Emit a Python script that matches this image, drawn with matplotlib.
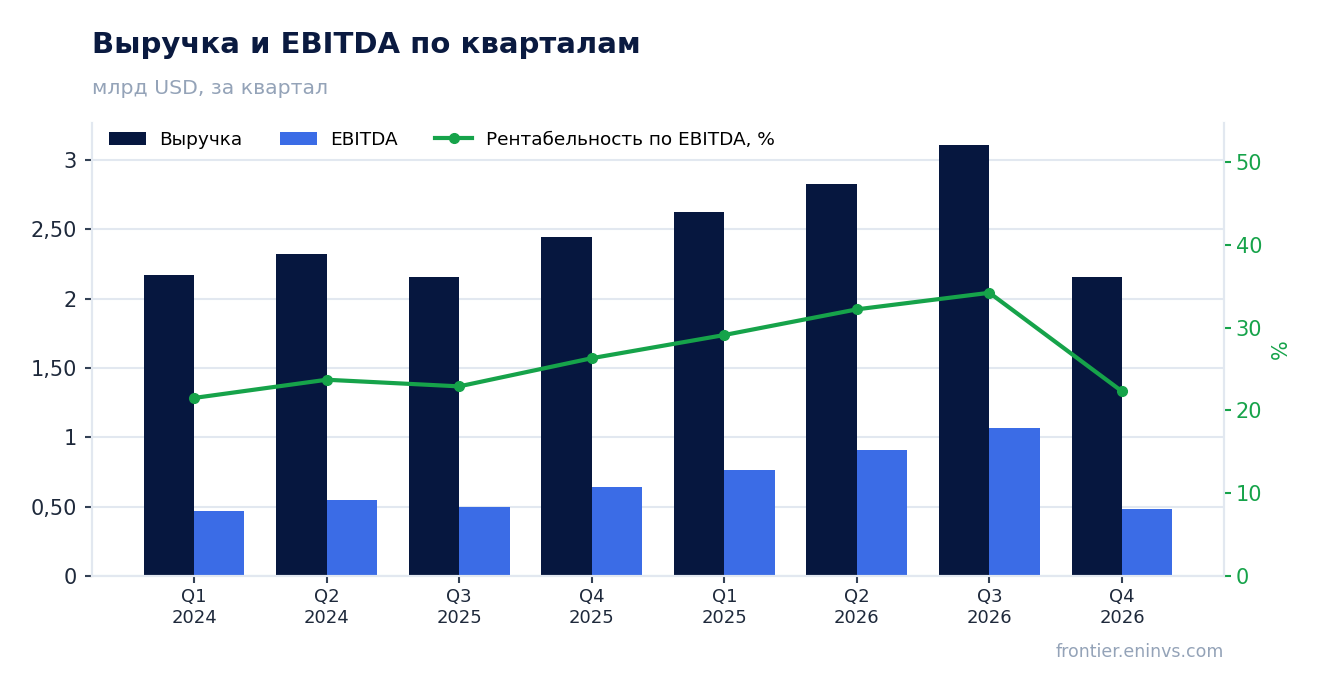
import matplotlib.pyplot as plt
import numpy as np

quarters = ["Q1\n2024", "Q2\n2024", "Q3\n2025", "Q4\n2025", "Q1\n2025", "Q2\n2026", "Q3\n2026", "Q4\n2026"]
revenue = [2.17, 2.32, 2.155, 2.445, 2.625, 2.825, 3.105, 2.155]
ebitda = [0.47, 0.548, 0.498, 0.642, 0.764, 0.909, 1.066, 0.483]
margin = [21.5, 23.7, 22.9, 26.3, 29.1, 32.2, 34.2, 22.3]
left_ticks = [0, 0.5, 1, 1.5, 2, 2.5, 3]
left_labels = ["0", "0,50", "1", "1,50", "2", "2,50", "3"]

navy = "#06173f"
blue = "#3b6ce6"
green = "#16a34a"
grid_c = "#e2e8f0"
grey = "#94a3b8"

fig = plt.figure(figsize=(13.23, 6.93), dpi=100)
ax = fig.add_axes([0.0695, 0.1688, 0.8557, 0.6537])
ax2 = ax.twinx()

x = np.arange(len(quarters))
w = 0.38
ax.bar(x - w / 2, revenue, w, color=navy, label="Выручка", zorder=2)
ax.bar(x + w / 2, ebitda, w, color=blue, label="EBITDA", zorder=2)
ln, = ax2.plot(x, margin, color=green, lw=3, marker="o", ms=7,
               label="Рентабельность по EBITDA, %", zorder=3)

ax.set_xlim(-0.77, len(quarters) - 1 + 0.77)
ax.set_ylim(0, 3.267)
ax2.set_ylim(0, 54.7)

ax.set_yticks(left_ticks)
ax.set_yticklabels(left_labels)
ax.set_xticks(x)
ax.set_xticklabels(quarters, fontsize=13, color="#1e293b")
ax.tick_params(axis="y", labelsize=15, colors="#334155", labelcolor="#1e293b",
               length=5, width=1.5, pad=5.7)
ax.tick_params(axis="x", length=5, width=1.5, colors="#334155", labelcolor="#1e293b")
ax.grid(axis="y", color=grid_c, lw=1.5, zorder=0)
ax.set_axisbelow(True)

ax2.set_yticks([0, 10, 20, 30, 40, 50])
ax2.tick_params(axis="y", labelsize=15, colors=green, length=5, width=1.5)
ax2.set_ylabel("%", color=green, fontsize=15, labelpad=6)

for a in (ax, ax2):
    for s in a.spines.values():
        s.set_color(grid_c)
        s.set_linewidth(1.5)
ax2.spines["top"].set_visible(False)
ax.spines["top"].set_visible(False)

h1, l1 = ax.get_legend_handles_labels()
ax.legend(h1 + [ln], l1 + [ln.get_label()], loc="upper left", ncol=3, frameon=False,
          fontsize=13.3, bbox_to_anchor=(0.0, 1.02), columnspacing=2.0,
          handlelength=2.0, handletextpad=0.76)

fig.text(0.0695, 0.935, "Выручка и EBITDA по кварталам", fontsize=21, fontweight="bold",
         color="#0a1a40", va="center")
fig.text(0.0695, 0.873, "млрд USD, за квартал", fontsize=14.7, color=grey, va="center")
fig.text(0.925, 0.059, "frontier.eninvs.com", fontsize=12.5, color=grey, ha="right", va="center")

fig.savefig("out.png", dpi=100)
